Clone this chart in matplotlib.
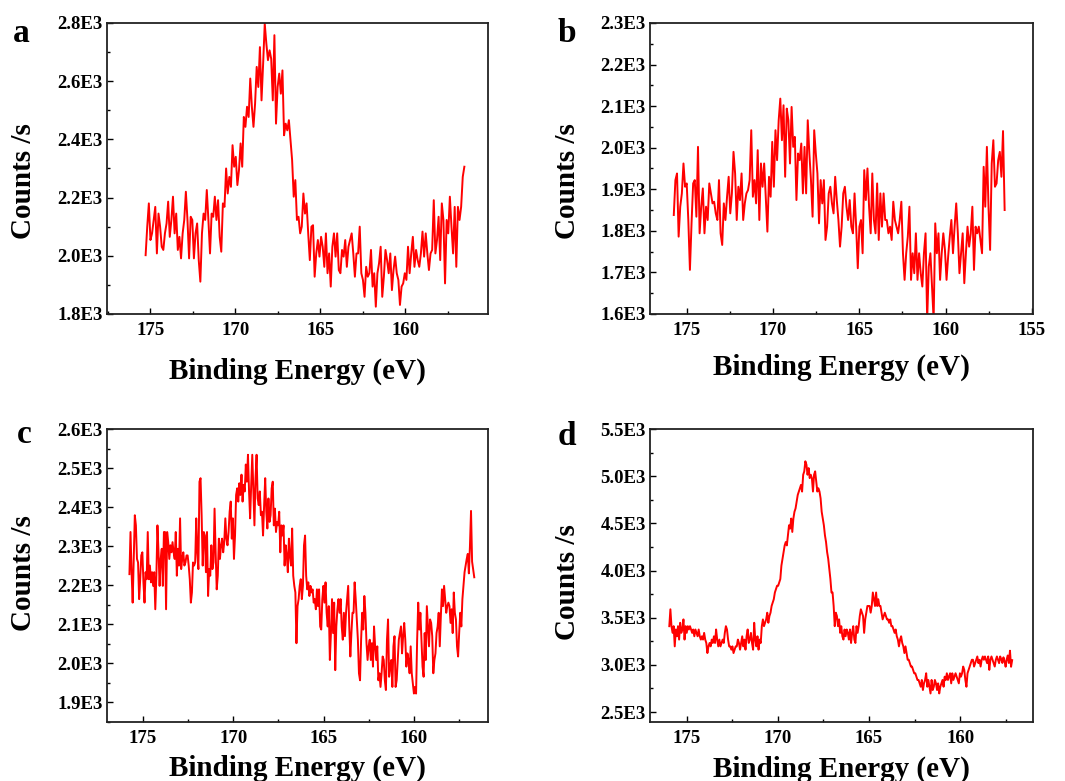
import numpy as np
import matplotlib
matplotlib.use("Agg")
import matplotlib.pyplot as plt
from matplotlib.ticker import MultipleLocator, FuncFormatter

plt.rcParams['font.family'] = ['Liberation Serif', 'DejaVu Serif']
plt.rcParams['font.weight'] = 'bold'

# ---- data (binding energy in eV, counts per second) ----
# panel a
energy_a_range = (175.28, 156.53)
counts_a = [
    2002, 2100, 2180, 2054, 2077, 2123, 2168, 2008, 2145, 2100, 2031, 2020, 2077, 2111, 2186, 2065,
    2123, 2203, 2077, 2145, 2020, 2065, 1991, 2077, 2123, 2220, 2123, 1991, 2134, 2123, 1991, 2077,
    2111, 1985, 1911, 2077, 2145, 2123, 2226, 2123, 2008, 2145, 2134, 2203, 2123, 2191, 2065, 2014,
    2180, 2168, 2300, 2214, 2271, 2237, 2380, 2306, 2340, 2243, 2294, 2386, 2306, 2477, 2443, 2512,
    2477, 2609, 2512, 2443, 2523, 2649, 2580, 2717, 2534, 2660, 2798, 2729, 2672, 2706, 2677, 2534,
    2758, 2454, 2580, 2626, 2557, 2637, 2414, 2454, 2431, 2466, 2397, 2329, 2203, 2260, 2123, 2134,
    2077,
    2100, 2214, 2145, 2180, 2077, 1985, 2100, 2105, 1928, 2008, 2054, 1997, 2065, 2031, 1962, 2077,
    1940, 2008, 1894, 2031, 2077, 1997, 2077, 1951, 1940, 2020, 1997, 2054, 1962, 2031, 2054, 2077,
    2008, 1928, 2008, 2008, 2100, 1940, 1917, 1859, 1962, 1928, 1940, 2020, 1894, 1940, 1825, 1940,
    1974, 2031, 1859, 1928, 2020, 1985, 1940, 2008, 1882, 1951, 1997, 1940, 1917, 1831, 1894, 1905,
    1940, 1917, 2031, 1940, 2008, 2065, 1962, 2020, 1985, 1962, 2008, 2083, 1997, 2077, 2008, 1951,
    2008, 2020, 2191, 2008, 2054, 2134, 1985, 2180, 2123, 1905, 2123, 2077, 2203, 2100, 2008, 2168,
    1962, 2168, 2123, 2168, 2271, 2306,
]

# panel b
energy_b_range = (175.75, 156.58)
counts_b = [
    1838, 1922, 1938, 1786, 1858, 1890, 1962, 1906, 1914, 1826, 1706, 1818, 1914, 1922, 1834, 2002,
    1794, 1858, 1902, 1794, 1858, 1826, 1914, 1890, 1866, 1870, 1842, 1826, 1922, 1794, 1766, 1866,
    1826, 1882, 1930, 1842, 1890, 1990, 1938, 1826, 1906, 1874, 1938, 1826, 1866, 1890, 1898, 1922,
    2042, 1882, 1922, 1866, 1994, 1826, 1962, 1906, 1962, 1882, 1798, 1930, 1882, 2014, 1906, 2042,
    1970, 2066, 2118, 2018, 2102, 1930, 2094, 2066, 1962, 2098, 2002, 2026, 1874, 1986, 1970, 2010,
    1890, 2002, 1890, 2066, 1986, 1922, 1834, 2042, 1986, 1938, 1818, 1922, 1866, 1922, 1778, 1810,
    1890,
    1906, 1866, 1842, 1930, 1874, 1826, 1762, 1810, 1890, 1906, 1858, 1826, 1874, 1810, 1794, 1890,
    1810, 1710, 1810, 1826, 1746, 1946, 1874, 1950, 1858, 1794, 1938, 1826, 1794, 1914, 1778, 1890,
    1810, 1890, 1826, 1826, 1794, 1810, 1778, 1870, 1826, 1810, 1794, 1826, 1870, 1746, 1682, 1746,
    1786, 1858, 1682, 1746, 1698, 1794, 1682, 1746, 1698, 1666, 1746, 1794, 1586, 1714, 1746, 1666,
    1586, 1818, 1746, 1794, 1682, 1746, 1794, 1754, 1682, 1738, 1786, 1826, 1746, 1810, 1866, 1794,
    1698, 1746, 1794, 1674, 1746, 1810, 1762, 1794, 1858, 1706, 1810, 1794, 1810, 1778, 1746, 1954,
    1858, 2002, 1858, 1754, 1962, 2018, 1906, 1914, 1970, 1990, 1930, 2040, 1850,
]

# panel c
energy_c_range = (175.75, 156.66)
counts_c = [
    2228, 2336, 2233, 2155, 2267, 2379, 2353, 2267, 2258, 2164, 2215, 2276, 2284, 2207, 2155, 2233,
    2215, 2336, 2215, 2250, 2207, 2233, 2198, 2233, 2138, 2224, 2353, 2284, 2198, 2267, 2293, 2198,
    2336, 2336, 2138, 2336, 2310, 2267, 2302, 2284, 2310, 2284, 2267, 2336, 2224, 2293, 2250, 2371,
    2241, 2267, 2284, 2250, 2258, 2276, 2276, 2250, 2215, 2155, 2181, 2258, 2250, 2258, 2371, 2284,
    2241, 2465, 2474, 2379, 2250, 2336, 2327, 2233, 2336, 2172, 2241, 2224, 2302, 2241, 2258, 2396,
    2284, 2189, 2224, 2319, 2267, 2302, 2319, 2284, 2310, 2371, 2319, 2302, 2336, 2388, 2414, 2319,
    2371, 2267, 2327, 2431, 2448, 2414, 2461, 2431, 2483, 2414, 2457, 2440, 2509, 2465, 2534, 2440,
    2371, 2457, 2534, 2440, 2353, 2474, 2534, 2422, 2405, 2440, 2379, 2388, 2327, 2405, 2474, 2388,
    2345, 2422, 2362, 2379, 2448, 2465, 2353, 2396, 2336, 2362, 2353, 2388, 2284, 2353, 2327, 2353,
    2250, 2302, 2276, 2233, 2319, 2276, 2250, 2345, 2224, 2198,
    2181, 2051, 2146, 2164, 2198, 2215, 2164, 2198, 2302, 2327, 2224, 2189, 2207, 2172, 2198, 2181,
    2189, 2155, 2164, 2138, 2189, 2146, 2189, 2094, 2086, 2164, 2198, 2155, 2207, 2129, 2094, 2146,
    2008, 2077, 2164, 2077, 2155, 1982, 2094, 2138, 2164, 2129, 2164, 2094, 2060, 2129, 2069, 2129,
    2164, 2198, 2094, 2017, 2077, 2129, 2129, 2207, 2164, 2112, 2060, 1974, 1956, 2060, 2129, 2086,
    2172, 2129, 2051, 2008, 2043, 2060, 2008, 2051, 1991, 2094, 2043, 2008, 2043, 1956, 1974, 1939,
    1974, 2017, 2008, 1956, 1931, 2060, 2112, 1965, 1991, 2008, 1939, 2043, 2069, 1939, 1956, 2008,
    2060, 2077, 2094, 2025, 2069, 2103, 2060, 1991, 2025, 2008, 1974, 2043, 1974, 1948, 1922, 1939,
    1922, 2060, 2155, 2086, 2129, 2060, 1991, 1965, 2077, 2008, 2146, 2094, 2043, 2112, 2103, 2069,
    1974, 2008, 2025, 2077, 2094, 2129, 2043, 2120, 2189, 2146, 2198, 2164, 2129, 2146, 2155, 2146,
    2103, 2138, 2077, 2181, 2129, 2112, 2043, 2017, 2077, 2129, 2094, 2164, 2198, 2233, 2250, 2267,
    2280, 2230, 2300, 2390, 2260, 2240, 2220,
]

# panel d
energy_d_range = (175.95, 157.15)
counts_d = [
    3410, 3589, 3410, 3339, 3410, 3196, 3375, 3303, 3410, 3268, 3446, 3339, 3375, 3482, 3268, 3410,
    3339, 3410, 3375, 3410, 3375, 3339, 3375, 3303, 3375, 3339, 3303, 3375, 3303, 3268, 3303, 3268,
    3339, 3268, 3232, 3125, 3196, 3232, 3196, 3268, 3232, 3303, 3232, 3375, 3268, 3196, 3268, 3196,
    3232, 3268, 3232, 3339, 3410, 3375, 3268, 3196, 3196, 3161, 3196, 3125, 3161, 3196, 3196, 3268,
    3232, 3161, 3232, 3303, 3196, 3268, 3161, 3303, 3375, 3232, 3268, 3339, 3232, 3161, 3446, 3268,
    3196, 3303, 3161, 3268, 3232, 3410, 3482, 3410, 3446, 3482, 3553, 3446, 3517, 3553, 3624, 3660,
    3696, 3767, 3803, 3838, 3838, 3874, 3910, 4052, 4124, 4195, 4266, 4302, 4266, 4373, 4480, 4444,
    4551, 4409, 4551, 4623, 4658, 4730, 4801, 4837, 4872, 4908, 4837, 5015, 5051, 5158, 5122, 5015,
    5086, 4979, 5015, 4979, 4837, 5015, 5051, 4944, 4837, 4872, 4837, 4765, 4623, 4551, 4480, 4373,
    4302, 4195, 4124, 4017, 3910, 3767,
    3767, 3624, 3410, 3553, 3517, 3410, 3482, 3339, 3410, 3303, 3268, 3375, 3303, 3375, 3339, 3268,
    3375, 3232, 3339, 3410, 3268, 3232, 3410, 3339, 3410, 3517, 3589, 3553, 3517, 3339, 3482, 3553,
    3624, 3624, 3624, 3553, 3624, 3767, 3696, 3624, 3767, 3624, 3696, 3624, 3624, 3553, 3482, 3517,
    3553, 3517, 3482, 3482, 3446, 3482, 3410, 3410, 3375, 3339, 3375, 3303, 3268, 3196, 3268, 3303,
    3232, 3196, 3125, 3196, 3125, 3054, 3054, 3018, 2982, 2982, 2947, 2911, 2911, 2875, 2840, 2840,
    2804, 2768, 2840, 2733, 2804, 2840, 2911, 2768, 2840, 2768, 2697, 2840, 2733, 2768, 2840, 2804,
    2733, 2804, 2697, 2768, 2804, 2840, 2768, 2875, 2840, 2911, 2840, 2875, 2911, 2804, 2911, 2840,
    2875, 2911, 2875, 2840, 2804, 2911, 2875, 2911, 2982, 2947, 2840, 2768, 2911, 2947, 2982, 3018,
    3054, 3054, 2982, 3018, 3054, 3089, 3018, 3054, 2982, 3054, 3089, 3054, 3089, 3054, 3018, 3089,
    2947, 3054, 3089, 3054, 3018, 2982, 3054, 3089, 3054, 3018, 3089,
    3060, 3020, 3080, 3040, 2980, 3060, 3100, 3020, 3150, 2980, 3050,
]

panels = [
    ('a', energy_a_range, counts_a, (177.55, 155.14), (1800, 2800), 200, 100, [175, 170, 165, 160]),
    ('b', energy_b_range, counts_b, (177.13, 154.94), (1600, 2300), 100, 50, [175, 170, 165, 160, 155]),
    ('c', energy_c_range, counts_c, (176.99, 155.9), (1849, 2600), 100, 50, [175, 170, 165, 160]),
    ('d', energy_d_range, counts_d, (177.01, 156.01), (2394, 5500), 500, 250, [175, 170, 165, 160]),
]

# axes rectangles in figure fractions
rects = {
    'a': [0.1005, 0.598, 0.3577, 0.3726],
    'b': [0.6103, 0.598, 0.3596, 0.3726],
    'c': [0.1005, 0.0755, 0.3577, 0.3752],
    'd': [0.6103, 0.0755, 0.3596, 0.3752],
}
xlabel_y = {'a': -0.15, 'b': -0.135, 'c': -0.11, 'd': -0.115}
ylabel_xy = {'a': (-0.185, 0.458), 'b': (-0.18, 0.458), 'c': (-0.185, 0.507), 'd': (-0.18, 0.479)}
letter_xy = {'a': (0.012, 0.946), 'b': (0.524, 0.946), 'c': (0.016, 0.433), 'd': (0.524, 0.430)}

fmt = FuncFormatter(lambda v, p: "%.1fE3" % (v / 1000.0))

fig = plt.figure(figsize=(10.65, 7.81), dpi=100)
for name, erange, counts, xlim, ylim, ymaj, ymin, xt in panels:
    ax = fig.add_axes(rects[name])
    energy = np.linspace(erange[0], erange[1], len(counts))
    ax.plot(energy, counts, color='#ff0000', lw=1.4)
    ax.set_xlim(*xlim)
    ax.set_ylim(*ylim)
    ax.set_xticks(xt)
    ax.xaxis.set_minor_locator(MultipleLocator(2.5))
    ax.yaxis.set_major_locator(MultipleLocator(ymaj))
    ax.yaxis.set_minor_locator(MultipleLocator(ymin))
    ax.yaxis.set_major_formatter(fmt)
    ax.tick_params(which='both', direction='in', top=False, right=False, width=1.0)
    ax.tick_params(which='major', length=4.5, labelsize=13.5)
    ax.tick_params(axis='x', which='major', pad=6)
    ax.tick_params(axis='y', which='major', pad=3)
    ax.tick_params(which='minor', length=2.5)
    for lbl in ax.get_xticklabels() + ax.get_yticklabels():
        lbl.set_fontweight('bold')
    for sp in ax.spines.values():
        sp.set_linewidth(1.3)
        sp.set_color('#222222')
    ax.set_xlabel('Binding Energy (eV)', fontsize=21, fontweight='bold', va='top')
    ax.xaxis.set_label_coords(0.5, xlabel_y[name])
    ax.set_ylabel('Counts /s', fontsize=21, fontweight='bold')
    ax.yaxis.set_label_coords(*ylabel_xy[name])
    fig.text(letter_xy[name][0], letter_xy[name][1], name, fontsize=24, fontweight='bold',
             va='baseline', ha='left')

fig.savefig("out.png", dpi=100)
